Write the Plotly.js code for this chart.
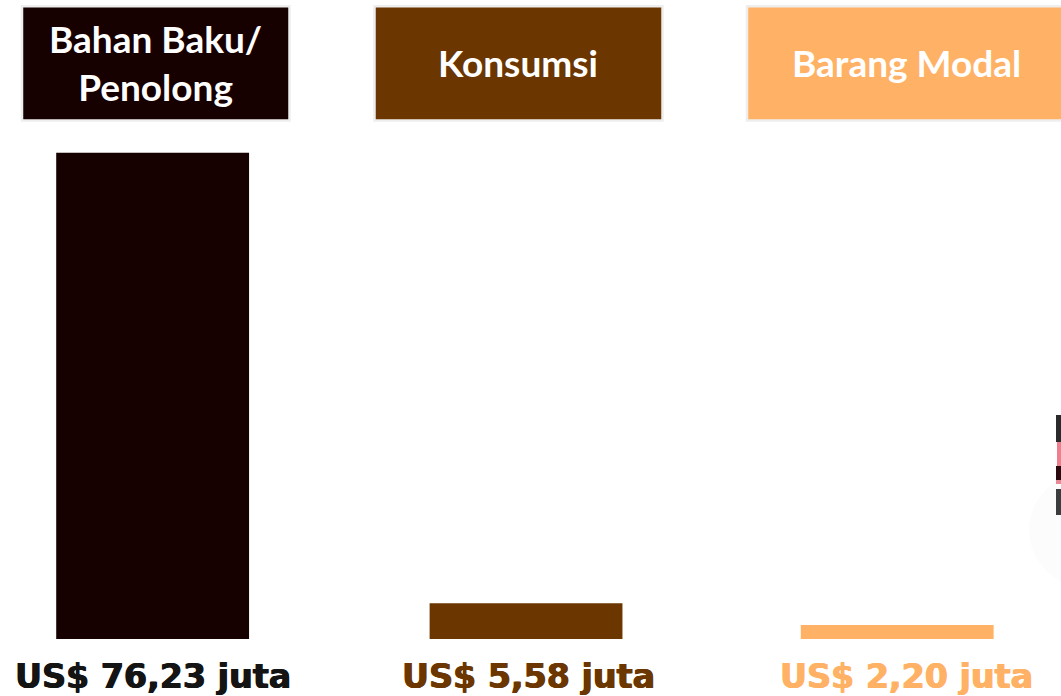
<!DOCTYPE html>
<html>
<head>
<meta charset="utf-8">
<script src="https://cdn.plot.ly/plotly-3.0.1.min.js"></script>
<style>html,body{margin:0;padding:0;background:#fff;overflow:hidden}#chart{width:1061px;height:696px}</style>
</head>
<body>
<div id="chart"></div>
<script>
const categories = ["Bahan Baku/<br>Penolong", "Konsumsi", "Barang Modal"];
const values = [76.23, 5.58, 2.20];
const valueLabels = ["US$ 76,23 juta", "US$ 5,58 juta", "US$ 2,20 juta"];
const colors = ["#170000", "#6B3600", "#FFB265"];
const barCentres = [0, 1.003, 2];

const W = 1061, H = 696;
const px = v => v / W;
const py = v => 1 - v / H;
const boxes = [[22, 289.5], [374.5, 662.5], [747, 1072]];
const labelX = [153, 528, 906];
const headerX = [155, 518, 906];
const headerY = [62.5, 62.5, 62.5];

const photoBits = [
  [1056, 415, 1064, 442, "#2A2A2A"],
  [1057, 442, 1064, 466, "#EE7F8C"],
  [1056, 466, 1064, 480, "#2A0A0E"],
  [1056, 480, 1064, 484, "#E88A96"],
  [1056, 489, 1064, 515, "#3A3C3E"]
];

const shapes = [{
  type: "circle", xref: "paper", yref: "paper", layer: "below",
  x0: px(1029), x1: px(1160), y0: py(470), y1: py(590),
  fillcolor: "#FCFCFC", line: {width: 0}
}].concat(boxes.map((b, i) => ({
  type: "rect", xref: "paper", yref: "paper", layer: "below",
  x0: px(b[0]), x1: px(b[1]), y0: py(6.2), y1: py(120.4),
  fillcolor: colors[i], line: {color: "#EEEEEE", width: 2.5}
}))).concat(photoBits.map(r => ({
  type: "rect", xref: "paper", yref: "paper", layer: "below",
  x0: px(r[0]), x1: px(r[2]), y0: py(r[1]), y1: py(r[3]),
  fillcolor: r[4], line: {width: 0}
})));

const annotations = [];
categories.forEach((c, i) => annotations.push({
  xref: "paper", yref: "paper", x: px(headerX[i]), y: py(headerY[i]),
  xanchor: "center", yanchor: "middle", showarrow: false, text: c, align: "center",
  font: {family: "Lato, 'Open Sans', sans-serif", size: 37, color: "#FFFFFF", weight: 700}
}));
valueLabels.forEach((t, i) => {
  const col = i === 0 ? "#141414" : colors[i];
  annotations.push({
    xref: "paper", yref: "paper", x: px(labelX[i]), y: py(676),
    xanchor: "center", yanchor: "middle", showarrow: false, text: t,
    font: {family: "'DejaVu Sans', sans-serif", size: 33.3, weight: 700, color: col,
           shadow: "0.6px 0 0 " + col + ", -0.6px 0 0 " + col}
  });
});

const data = [{
  type: "bar", x: barCentres, y: values, width: 0.518,
  marker: {color: colors, line: {width: 0}}, hoverinfo: "skip"
}];

const layout = {
  width: W, height: H, margin: {l: 0, r: 0, t: 0, b: 0},
  paper_bgcolor: "#FFFFFF", plot_bgcolor: "rgba(0,0,0,0)", showlegend: false,
  xaxis: {range: [-0.41, 2.44], visible: false, fixedrange: true},
  yaxis: {range: [-8.95, 100.2], visible: false, fixedrange: true},
  shapes, annotations
};
Plotly.newPlot("chart", data, layout, {displayModeBar: false, staticPlot: true});
</script>
</body>
</html>
